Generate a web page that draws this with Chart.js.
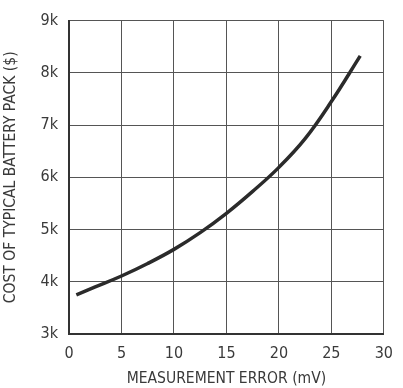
<!DOCTYPE html>
<html lang="en">
<head>
  <meta charset="UTF-8">
  <title>Battery pack cost vs measurement error</title>
  <script src="https://cdn.jsdelivr.net/npm/chart.js"></script>
  <style>
    body, html {
      margin: 0;
      background: #fff;
    }
    #wrap {
      width: 403px;
      height: 388px;
    }
  </style>
</head>
<body>
  <div id="wrap"><canvas id="costChart"></canvas></div>

  <script>
    // values
    const errorMv = [0.7, 2.5, 5, 7.5, 10, 12.5, 15, 17.5, 20, 22.5, 25, 27.75];
    const packCost = [3750, 3900, 4110, 4350, 4620, 4940, 5310, 5730, 6190, 6740, 7450, 8325];

    const xTicks = [0, 5, 10, 15, 20, 25, 30];
    const yTicks = [3000, 4000, 5000, 6000, 7000, 8000, 9000];

    const font = "'DejaVu Sans Condensed', 'Liberation Sans', sans-serif";

    const points = errorMv.map((x, i) => ({ x: x, y: packCost[i] }));

    new Chart(document.getElementById("costChart"), {
      type: "line",
      data: {
        datasets: [{
          data: points,
          borderColor: "#2b2b2b",
          borderWidth: 3.5,
          pointRadius: 0,
          tension: 0.4,
          fill: false
        }]
      },
      options: {
        responsive: true,
        maintainAspectRatio: false,
        animation: false,
        layout: { padding: { top: 17, right: 17, left: 0, bottom: 0 } },
        plugins: {
          legend: { display: false },
          tooltip: { enabled: false }
        },
        scales: {
          x: {
            type: "linear",
            min: 0,
            max: 30,
            afterBuildTicks: s => { s.ticks = xTicks.map(v => ({ value: v })); },
            afterFit: s => { s.height = 54; },
            grid: { color: "#555", lineWidth: 1, drawTicks: false },
            border: { color: "#333", width: 2 },
            ticks: {
              color: "#3a3a3a",
              padding: 10,
              font: { family: font, size: 16 }
            },
            title: {
              display: true,
              text: "MEASUREMENT ERROR (mV)",
              color: "#3a3a3a",
              padding: { top: 1, bottom: 0 },
              font: { family: font, size: 15.5 }
            }
          },
          y: {
            min: 3000,
            max: 9000,
            afterBuildTicks: s => { s.ticks = yTicks.map(v => ({ value: v })); },
            afterFit: s => { s.width = 69; },
            grid: { color: "#555", lineWidth: 1, drawTicks: false },
            border: { color: "#333", width: 2 },
            ticks: {
              color: "#3a3a3a",
              padding: 11,
              font: { family: font, size: 16 },
              callback: v => (v / 1000) + "k"
            },
            title: {
              display: true,
              text: "COST OF TYPICAL BATTERY PACK ($)",
              color: "#3a3a3a",
              padding: { top: 2, bottom: 0 },
              font: { family: font, size: 15.5 }
            }
          }
        }
      }
    });
  </script>
</body>
</html>
